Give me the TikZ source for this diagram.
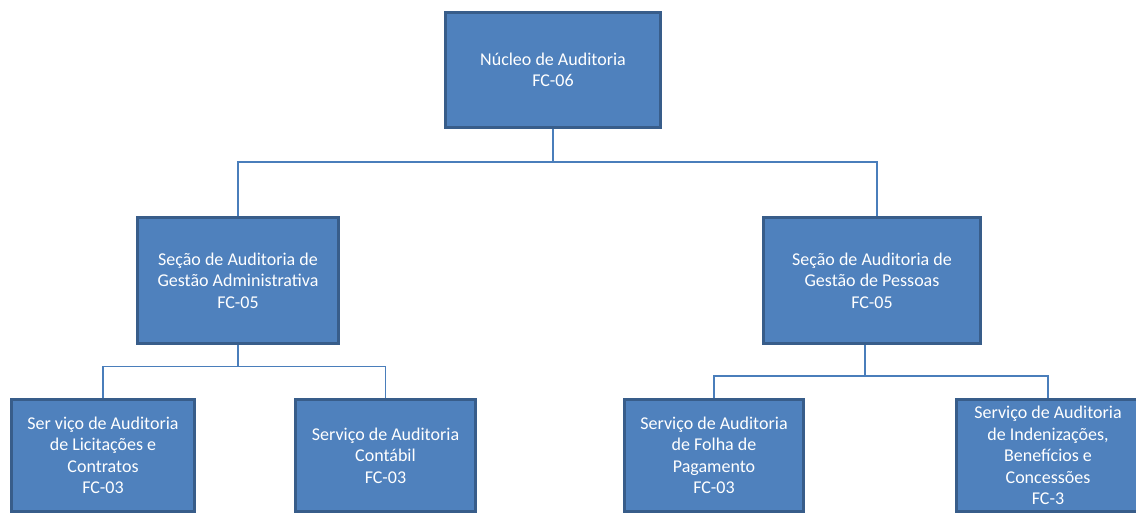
\documentclass[tikz,border=0pt]{standalone}
\usepackage{fontspec}
\setmainfont{Carlito}
\usetikzlibrary{backgrounds}
\definecolor{boxfill}{HTML}{4F81BD}
\definecolor{boxline}{HTML}{385D8A}
\definecolor{conn}{HTML}{4A7EBB}
\begin{document}
\begin{tikzpicture}[x=1pt,y=-1pt,
  box/.style={draw=boxline, line width=3pt, fill=boxfill, text=white, align=center,
    font=\fontsize{18}{21.5}\selectfont, inner sep=0pt},
  link/.style={draw=conn, line width=1.3pt}]
\useasboundingbox (0,0) rectangle (1136,513);
\clip (0,0) rectangle (1136,513);
\node[box, minimum width=215pt, minimum height=115pt] (top) at (553,70) {Núcleo de Auditoria\\FC-06};
\node[box, minimum width=201pt, minimum height=126pt] (sa) at (238,280.5) {Seção de Auditoria de\\Gestão Administrativa\\FC-05};
\node[box, minimum width=217pt, minimum height=126pt] (sp) at (872,280.5) {Seção de Auditoria de\\Gestão de Pessoas\\FC-05};
\node[box, minimum width=183pt, minimum height=112pt] (b1) at (103,455.5) {Ser viço de Auditoria\\de Licitações e\\Contratos\\FC-03};
\node[box, minimum width=180pt, minimum height=112pt] (b2) at (385.5,455.5) {Serviço de Auditoria\\Contábil\\FC-03};
\node[box, minimum width=179pt, minimum height=112pt] (b3) at (714,455.5) {Serviço de Auditoria\\de Folha de\\Pagamento\\FC-03};
\node[box, minimum width=183pt, minimum height=112pt] (b4) at (1048,455.5) {Serviço de Auditoria\\de Indenizações,\\Benefícios e\\Concessões\\FC-3};
\coordinate (j1) at (553,162);
\coordinate (j2) at (238,366.5);
\coordinate (j3) at (865,376);
\begin{scope}[on background layer]
\draw[link] (top.south) -- (j1);
\draw[link] (j1) -| ([xshift=0pt]sa.north);
\draw[link] (j1) -| ([xshift=5pt]sp.north);
\draw[link] (sa.south) -- (j2);
\draw[link] (j2) -| (b1.north);
\draw[link] (j2) -| (b2.north);
\draw[link] ([xshift=-7pt]sp.south) -- (j3);
\draw[link] (j3) -| (b3.north);
\draw[link] (j3) -| (b4.north);
\end{scope}
\end{tikzpicture}
\end{document}
